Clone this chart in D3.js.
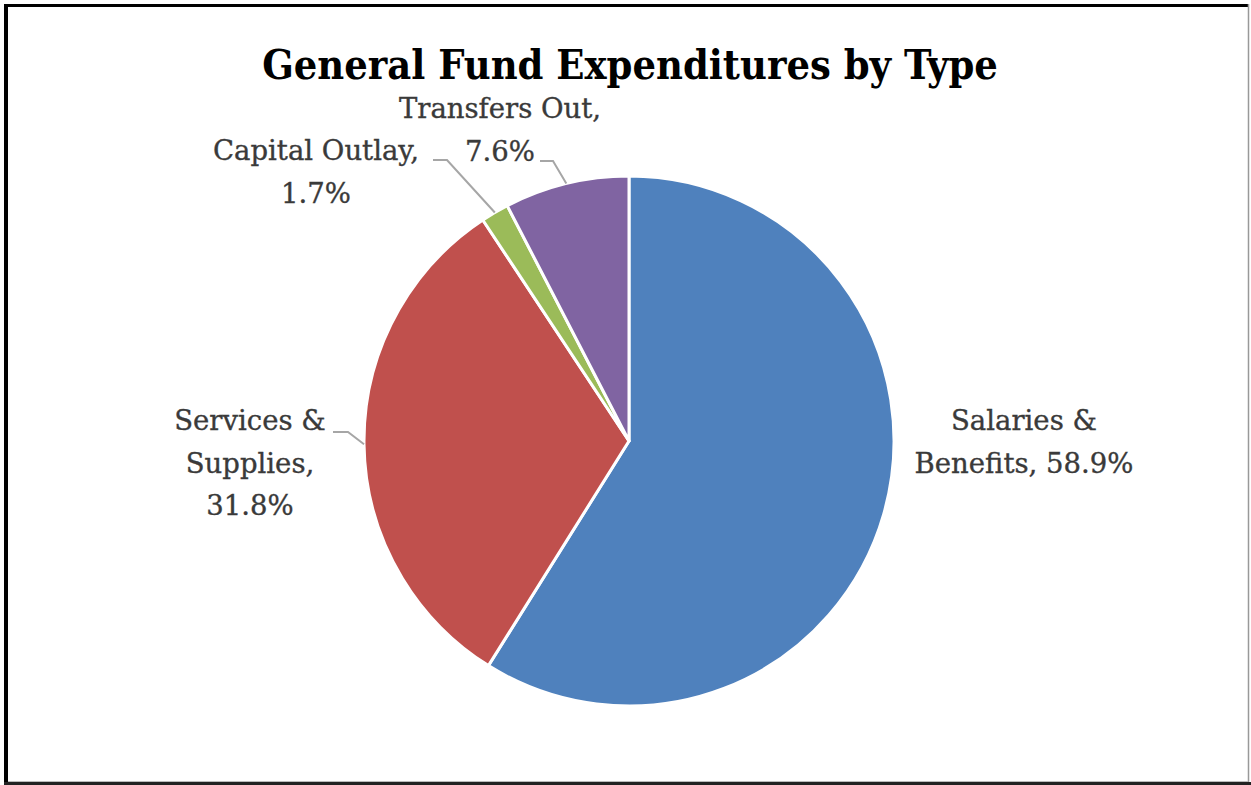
<!DOCTYPE html>
<html>
<head>
<meta charset="utf-8">
<script src="https://cdn.jsdelivr.net/npm/d3@7"></script>
<style>
  html, body { margin: 0; padding: 0; background: #fff; }
  svg { display: block; }
</style>
</head>
<body>
<svg id="chart" width="1251" height="785"></svg>
<script>
// Expenditure shares by type (percent)
const categories = ["Salaries & Benefits", "Services & Supplies", "Capital Outlay", "Transfers Out"];
const values = [58.9, 31.8, 1.7, 7.6];
const labelLines = [
  ["Salaries &", "Benefits, 58.9%"],
  ["Services &", "Supplies,", "31.8%"],
  ["Capital Outlay,", "1.7%"],
  ["Transfers Out,", "7.6%"]
];
const colors = ["#4F81BD", "#C0504D", "#9BBB59", "#8064A2"];

const svg = d3.select("#chart");
const W = 1251, H = 785;
const cx = 629, cy = 441, R = 265;
const FONT = "'Palatino Linotype', 'Book Antiqua', Palatino, 'DejaVu Serif', serif";
const TITLE_FONT = "'Palatino Linotype', 'Book Antiqua', Palatino, 'DejaVu Serif Condensed', 'DejaVu Serif', serif";

// frame
svg.append("rect").attr("x", 0).attr("y", 0).attr("width", W).attr("height", H).attr("fill", "#fff");
svg.append("line").attr("x1", 6).attr("y1", 4).attr("x2", 6).attr("y2", 785).attr("stroke", "#000").attr("stroke-width", 4);
svg.append("line").attr("x1", 4).attr("y1", 5.5).attr("x2", 1249).attr("y2", 5.5).attr("stroke", "#000").attr("stroke-width", 3);
svg.append("line").attr("x1", 1248.5).attr("y1", 4).attr("x2", 1248.5).attr("y2", 785).attr("stroke", "#999").attr("stroke-width", 1.5);
svg.append("line").attr("x1", 4).attr("y1", 783.5).attr("x2", 1251).attr("y2", 783.5).attr("stroke", "#222").attr("stroke-width", 3);
svg.append("line").attr("x1", 8).attr("y1", 781.5).attr("x2", 1248).attr("y2", 781.5).attr("stroke", "#bbb").attr("stroke-width", 1);

// title, fitted to its printed width
const title = svg.append("text")
  .attr("x", 630).attr("y", 79)
  .attr("text-anchor", "middle")
  .attr("font-family", TITLE_FONT).attr("font-weight", "bold")
  .attr("font-stretch", "condensed")
  .attr("font-size", 36).attr("fill", "#000")
  .text("General Fund Expenditures by Type");
function fitWidth(sel, target) {
  const fs = +sel.attr("font-size");
  const w = sel.node().getComputedTextLength();
  sel.attr("font-size", fs * target / w);
}
fitWidth(title, 736);

// pie
const pie = d3.pie().sort(null).value(d => d)
  .startAngle(0).endAngle(2 * Math.PI);
const arcs = pie(values);
const arc = d3.arc().innerRadius(0).outerRadius(R);

const g = svg.append("g").attr("transform", `translate(${cx},${cy})`);
g.selectAll("path.slice")
  .data(arcs)
  .join("path")
  .attr("class", "slice")
  .attr("d", arc)
  .attr("fill", (d, i) => colors[i])
  .attr("stroke", "#fff")
  .attr("stroke-width", 3)
  .attr("stroke-linejoin", "round");

// label placement relative to the pie centre: anchor of first line, line gap, leader elbow
const lineGap = 42.5;
const labelLayout = [
  { x: 395, y: -11, leader: null },
  { x: -379, y: -11, leader: { ex: -281, ey: -9, lx: -296 } },
  { x: -313, y: -281, leader: { ex: -182, ey: -281, lx: -196 } },
  { x: -129, y: -323, leader: { ex: -76, ey: -280, lx: -89 } }
];

const labelFontSize = 27.5;
arcs.forEach((a, i) => {
  const L = labelLayout[i];
  const t = g.append("text")
    .attr("font-family", FONT)
    .attr("font-size", labelFontSize)
    .attr("fill", "#3a3a3a")
    .attr("stroke", "#3a3a3a")
    .attr("stroke-width", 0.35)
    .attr("text-anchor", "middle");
  labelLines[i].forEach((line, k) => {
    t.append("tspan").attr("x", L.x).attr("y", L.y + k * lineGap).text(line);
  });
  if (L.leader) {
    const mid = (a.startAngle + a.endAngle) / 2;
    const px = R * Math.sin(mid), py = -R * Math.cos(mid);
    g.append("polyline")
      .attr("points", [[L.leader.lx, L.leader.ey], [L.leader.ex, L.leader.ey], [px, py]].map(p => p.join(",")).join(" "))
      .attr("fill", "none")
      .attr("stroke", "#A6A6A6")
      .attr("stroke-width", 2);
  }
});
</script>
</body>
</html>
